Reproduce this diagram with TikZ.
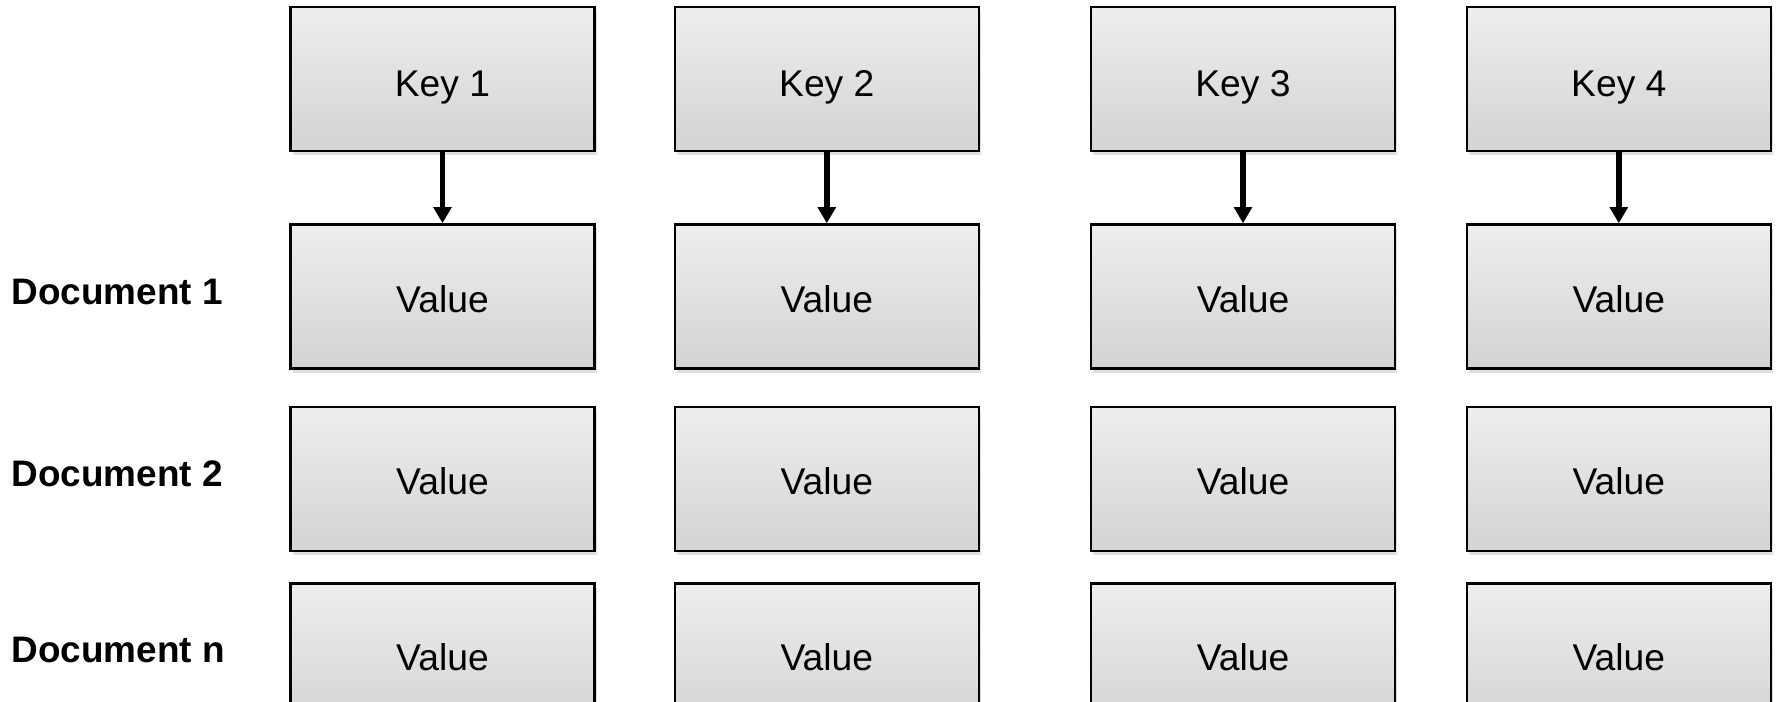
\documentclass[tikz,border=0pt]{standalone}
\usepackage{fontspec}
\setmainfont{Liberation Sans}
\usetikzlibrary{arrows.meta,shadows}
\definecolor{boxtop}{RGB}{238,238,238}
\definecolor{boxbottom}{RGB}{211,211,212}

\begin{document}
\begin{tikzpicture}[
  cell/.style={draw=black, line width=0.7pt, top color=boxtop, bottom color=boxbottom,
    minimum width=3.04cm, minimum height=1.44cm, inner sep=0pt,
    text height=0.31cm, text depth=0pt,
    drop shadow={shadow xshift=0.6pt, shadow yshift=-1.2pt, opacity=0.25},
    font=\fontsize{10.6}{12}\selectfont},
  keycell/.style={cell, text height=0.35cm},
  doclabel/.style={anchor=west, inner sep=0pt, font=\fontsize{10.5}{12}\selectfont\bfseries},
  keyarrow/.style={line width=1.6pt, -{Triangle[length=4.6pt,width=5pt]}}]
\useasboundingbox (0,0) rectangle (17.78,-7.01);
\clip (0,0) rectangle (17.78,-7.01);
% keys
\node[keycell] (k1) at (4.425,-0.788) {Key 1};
\node[keycell] (k2) at (8.268,-0.788) {Key 2};
\node[keycell] (k3) at (12.43,-0.788) {Key 3};
\node[keycell] (k4) at (16.188,-0.788) {Key 4};
% document 1
\node[doclabel] (d1) at (0.11,-2.915) {Document 1};
\node[cell] (v11) at (4.425,-2.965) {Value};
\node[cell] (v12) at (8.268,-2.965) {Value};
\node[cell] (v13) at (12.43,-2.965) {Value};
\node[cell] (v14) at (16.188,-2.965) {Value};
% document 2
\node[doclabel] (d2) at (0.11,-4.735) {Document 2};
\node[cell] (v21) at (4.425,-4.79) {Value};
\node[cell] (v22) at (8.268,-4.79) {Value};
\node[cell] (v23) at (12.43,-4.79) {Value};
\node[cell] (v24) at (16.188,-4.79) {Value};
% document n
\node[doclabel] (dn) at (0.11,-6.50) {Document n};
\node[cell] (vn1) at (4.425,-6.553) {Value};
\node[cell] (vn2) at (8.268,-6.553) {Value};
\node[cell] (vn3) at (12.43,-6.553) {Value};
\node[cell] (vn4) at (16.188,-6.553) {Value};
% arrows
\draw[keyarrow] (k1) -- (v11);
\draw[keyarrow] (k2) -- (v12);
\draw[keyarrow] (k3) -- (v13);
\draw[keyarrow] (k4) -- (v14);
\end{tikzpicture}
\end{document}
